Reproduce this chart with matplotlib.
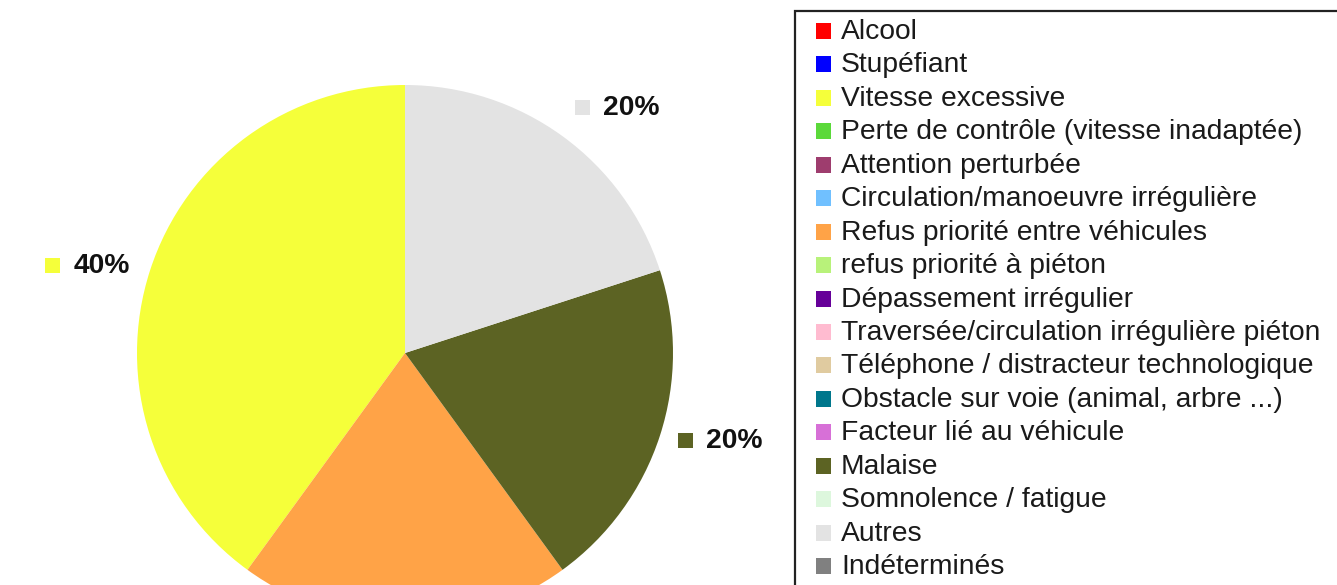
import numpy as np
import matplotlib
matplotlib.use("Agg")
import matplotlib.pyplot as plt
from matplotlib.patches import Rectangle

plt.rcParams['font.family'] = ['Liberation Sans', 'DejaVu Sans']

# data
categories = [
    "Alcool", "Stupéfiant", "Vitesse excessive",
    "Perte de contrôle (vitesse inadaptée)", "Attention perturbée",
    "Circulation/manoeuvre irrégulière", "Refus priorité entre véhicules",
    "refus priorité à piéton", "Dépassement irrégulier",
    "Traversée/circulation irrégulière piéton",
    "Téléphone / distracteur technologique",
    "Obstacle sur voie (animal, arbre ...)", "Facteur lié au véhicule",
    "Malaise", "Somnolence / fatigue", "Autres", "Indéterminés",
]
counts = [0, 0, 2, 0, 0, 0, 1, 0, 0, 0, 0, 0, 0, 1, 0, 1, 0]
colors = [
    "#FF0000", "#0000FF", "#F5FF3A", "#5BD93A", "#9E3D6E", "#70C0FF",
    "#FFA347", "#B8F27A", "#660099", "#FFBBD0", "#E0CBA0", "#00778C",
    "#D770D7", "#5C6323", "#DDF7DD", "#E3E3E3", "#808080",
]

W, H = 1337, 585
fig = plt.figure(figsize=(W / 100, H / 100), dpi=100)
ax = fig.add_axes([0, 0, 1, 1])

cx, cy, r = 405, H - 353, 268
wedges, _ = ax.pie(counts, colors=colors, startangle=90, counterclock=True,
                   center=(cx, cy), radius=r,
                   wedgeprops=dict(linewidth=0, antialiased=True))
ax.set_xlim(0, W)
ax.set_ylim(0, H)
ax.set_aspect('equal')
ax.axis('off')

fs = 20.3
total = sum(counts)
renderer = fig.canvas.get_renderer()

# percentage labels with a colour key, LibreOffice style
for w, c, col in zip(wedges, counts, colors):
    if c == 0:
        continue
    th = np.deg2rad((w.theta1 + w.theta2) / 2)
    axx = cx + 1.1 * r * np.cos(th)
    axy = cy + 1.1 * r * np.sin(th)
    s = np.sin(th)
    if s > 0.5:
        sq_c = axy + 7.5
    elif s < -0.5:
        sq_c = axy - 7.5
    else:
        sq_c = axy - 13 * s
    if sq_c < 0 or sq_c > H:
        # label falls outside the visible area (cut off in the original)
        continue
    base = sq_c - 7.5
    txt = "%d%%" % round(100 * c / total)
    if np.cos(th) >= 0:
        sq_left = axx - 3 if s > 0.5 else axx - 7
        ax.text(sq_left + 28, base, txt, fontsize=fs, fontweight='bold',
                ha='left', va='baseline', color='#111111')
    else:
        t = ax.text(axx + 5, base, txt, fontsize=fs, fontweight='bold',
                    ha='right', va='baseline', color='#111111')
        tw = t.get_window_extent(renderer).width
        sq_left = axx + 5 - tw - 13 - 15
    ax.add_patch(Rectangle((sq_left, sq_c - 7.5), 15, 15, facecolor=col,
                           edgecolor='none', clip_on=False))

# legend
ax.add_patch(Rectangle((795, -20), 600, H - 11 + 20, facecolor='white',
                       edgecolor='#222222', linewidth=1.6))
for i, (lab, col) in enumerate(zip(categories, colors)):
    yb = H - (39 + 33.44 * i)
    ax.add_patch(Rectangle((816, yb), 15, 16, facecolor=col, edgecolor='none'))
    ax.text(841, yb, lab, fontsize=fs, ha='left', va='baseline',
            color='#1a1a1a')

fig.savefig("out.png", dpi=100)
